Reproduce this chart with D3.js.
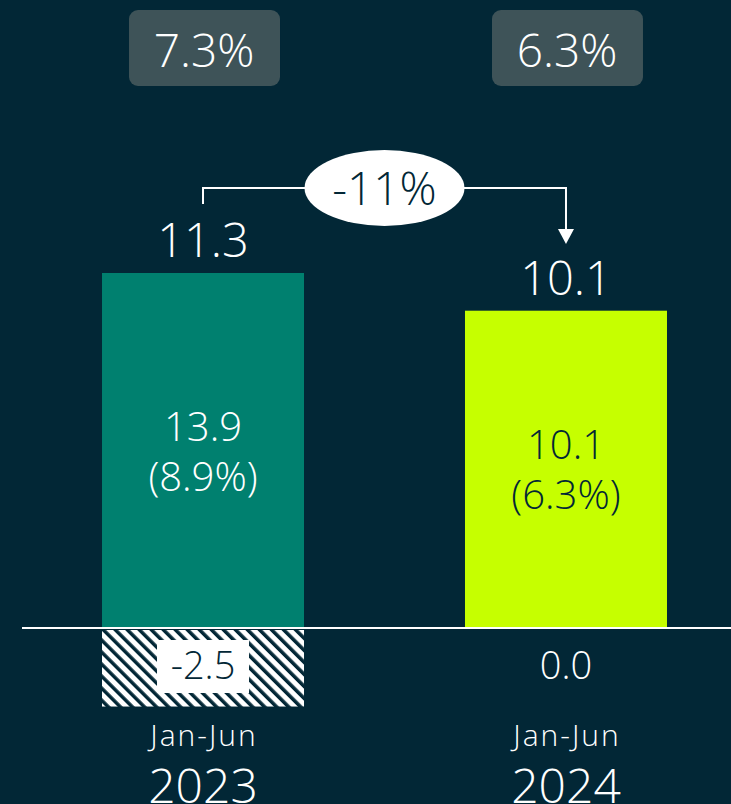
<!DOCTYPE html>
<html>
<head>
<meta charset="utf-8">
<script src="https://cdn.jsdelivr.net/npm/d3@7"></script>
<style>
  html, body { margin: 0; padding: 0; background: #022736; }
  svg { display: block; font-family: "Open Sans", "Inter", sans-serif; font-weight: 300; }
</style>
</head>
<body>
<script>
// data
var periods = ["Jan-Jun", "Jan-Jun"];
var years = ["2023", "2024"];
var netTotals = [11.3, 10.1];
var grossValues = [13.9, 10.1];
var grossPct = ["8.9%", "6.3%"];
var negValues = [-2.5, 0.0];
var marginPct = ["7.3%", "6.3%"];
var changeLabel = "-11%";

var barColors = ["#00806f", "#c6ff00"];
var bg = "#022736";

var w = 731, h = 804;

var svg = d3.select("body").append("svg")
  .attr("width", w).attr("height", h);

svg.append("rect").attr("width", w).attr("height", h).attr("fill", bg);

// hatch pattern
var defs = svg.append("defs");
var pat = defs.append("pattern")
  .attr("id", "hatch")
  .attr("patternUnits", "userSpaceOnUse")
  .attr("width", 8.5).attr("height", 8.5)
  .attr("patternTransform", "rotate(-45)");
pat.append("rect").attr("width", 8.5).attr("height", 8.5).attr("fill", "#fff");
pat.append("rect").attr("x", 0).attr("width", 3.5).attr("height", 8.5).attr("fill", bg);

var x = d3.scaleBand().domain(d3.range(2)).range([19, 750])
  .paddingInner(0.4435).paddingOuter(0.2287);
var y = d3.scaleLinear().domain([0, 11.3]).range([628, 273]);

var bw = x.bandwidth();
function fmt(v) { return v.toFixed(1); }

// positive bars (drawn to net total)
svg.selectAll(".bar").data(netTotals).enter().append("rect")
  .attr("x", function(d, i) { return x(i); })
  .attr("y", function(d) { return y(d); })
  .attr("width", bw)
  .attr("height", function(d) { return y(0) - y(d); })
  .attr("fill", function(d, i) { return barColors[i]; });

// negative hatched bars
svg.selectAll(".neg").data(negValues).enter().append("rect")
  .attr("x", function(d, i) { return x(i); })
  .attr("y", y(0) + 2)
  .attr("width", bw)
  .attr("height", function(d) { return Math.max(0, y(d) - y(0) - 2); })
  .attr("fill", "url(#hatch)");

// baseline
svg.append("line")
  .attr("x1", 22).attr("x2", w)
  .attr("y1", y(0)).attr("y2", y(0))
  .attr("stroke", "#fff").attr("stroke-width", 2);

// top margin boxes
marginPct.forEach(function(t, i) {
  var cx = x(i) + bw / 2 + 1;
  svg.append("rect")
    .attr("x", cx - 75).attr("y", 10).attr("width", 151).attr("height", 76)
    .attr("rx", 9).attr("fill", "#3e5358");
  svg.append("text").attr("x", cx).attr("y", 67)
    .attr("text-anchor", "middle").attr("fill", "#fff")
    .attr("font-size", 46).text(t);
});

// net totals above bars
svg.selectAll(".tot").data(netTotals).enter().append("text")
  .attr("x", function(d, i) { return x(i) + bw / 2; })
  .attr("y", function(d) { return y(d) - 16; })
  .attr("text-anchor", "middle").attr("fill", "#fff")
  .attr("font-size", 47)
  .text(fmt);

// inside labels
grossValues.forEach(function(v, i) {
  var cx = x(i) + bw / 2;
  var cy = (y(netTotals[i]) + y(0)) / 2;
  var col = i === 0 ? "#fff" : bg;
  svg.append("text").attr("x", cx).attr("y", cy - 10)
    .attr("text-anchor", "middle").attr("fill", col)
    .attr("font-size", 40).text(fmt(v));
  svg.append("text").attr("x", cx).attr("y", cy + 40)
    .attr("text-anchor", "middle").attr("fill", col)
    .attr("font-size", 40).text("(" + grossPct[i] + ")");
});

// negative labels
negValues.forEach(function(v, i) {
  var cx = x(i) + bw / 2;
  if (v < 0) {
    svg.append("rect").attr("x", cx - 46).attr("y", 640)
      .attr("width", 92).attr("height", 53).attr("fill", "#fff");
  }
  svg.append("text").attr("x", cx).attr("y", 679)
    .attr("text-anchor", "middle").attr("fill", v < 0 ? bg : "#fff")
    .attr("font-size", 38).text(fmt(v));
});

// period labels
periods.forEach(function(p, i) {
  var cx = x(i) + bw / 2;
  svg.append("text").attr("x", cx + 1).attr("y", 746)
    .attr("text-anchor", "middle").attr("fill", "#fff")
    .attr("font-size", 30).attr("letter-spacing", 2).text(p);
  svg.append("text").attr("x", cx).attr("y", 803)
    .attr("text-anchor", "middle").attr("fill", "#fff")
    .attr("font-size", 48).text(years[i]);
});

// change bracket
var x1 = x(0) + bw / 2, x2 = x(1) + bw / 2;
var by = 188, ex = (x1 + x2) / 2;
svg.append("path")
  .attr("d", "M" + x1 + "," + 204 + "V" + by + "H" + x2 + "V" + 234)
  .attr("fill", "none").attr("stroke", "#fff").attr("stroke-width", 2);
svg.append("path")
  .attr("d", "M" + (x2 - 8) + ",229L" + (x2 + 8) + ",229L" + x2 + ",244Z")
  .attr("fill", "#fff");
svg.append("ellipse").attr("cx", ex).attr("cy", by)
  .attr("rx", 80).attr("ry", 38).attr("fill", "#fff");
svg.append("text").attr("x", ex).attr("y", by + 17)
  .attr("text-anchor", "middle").attr("fill", bg)
  .attr("font-size", 46).text(changeLabel);
</script>
</body>
</html>
